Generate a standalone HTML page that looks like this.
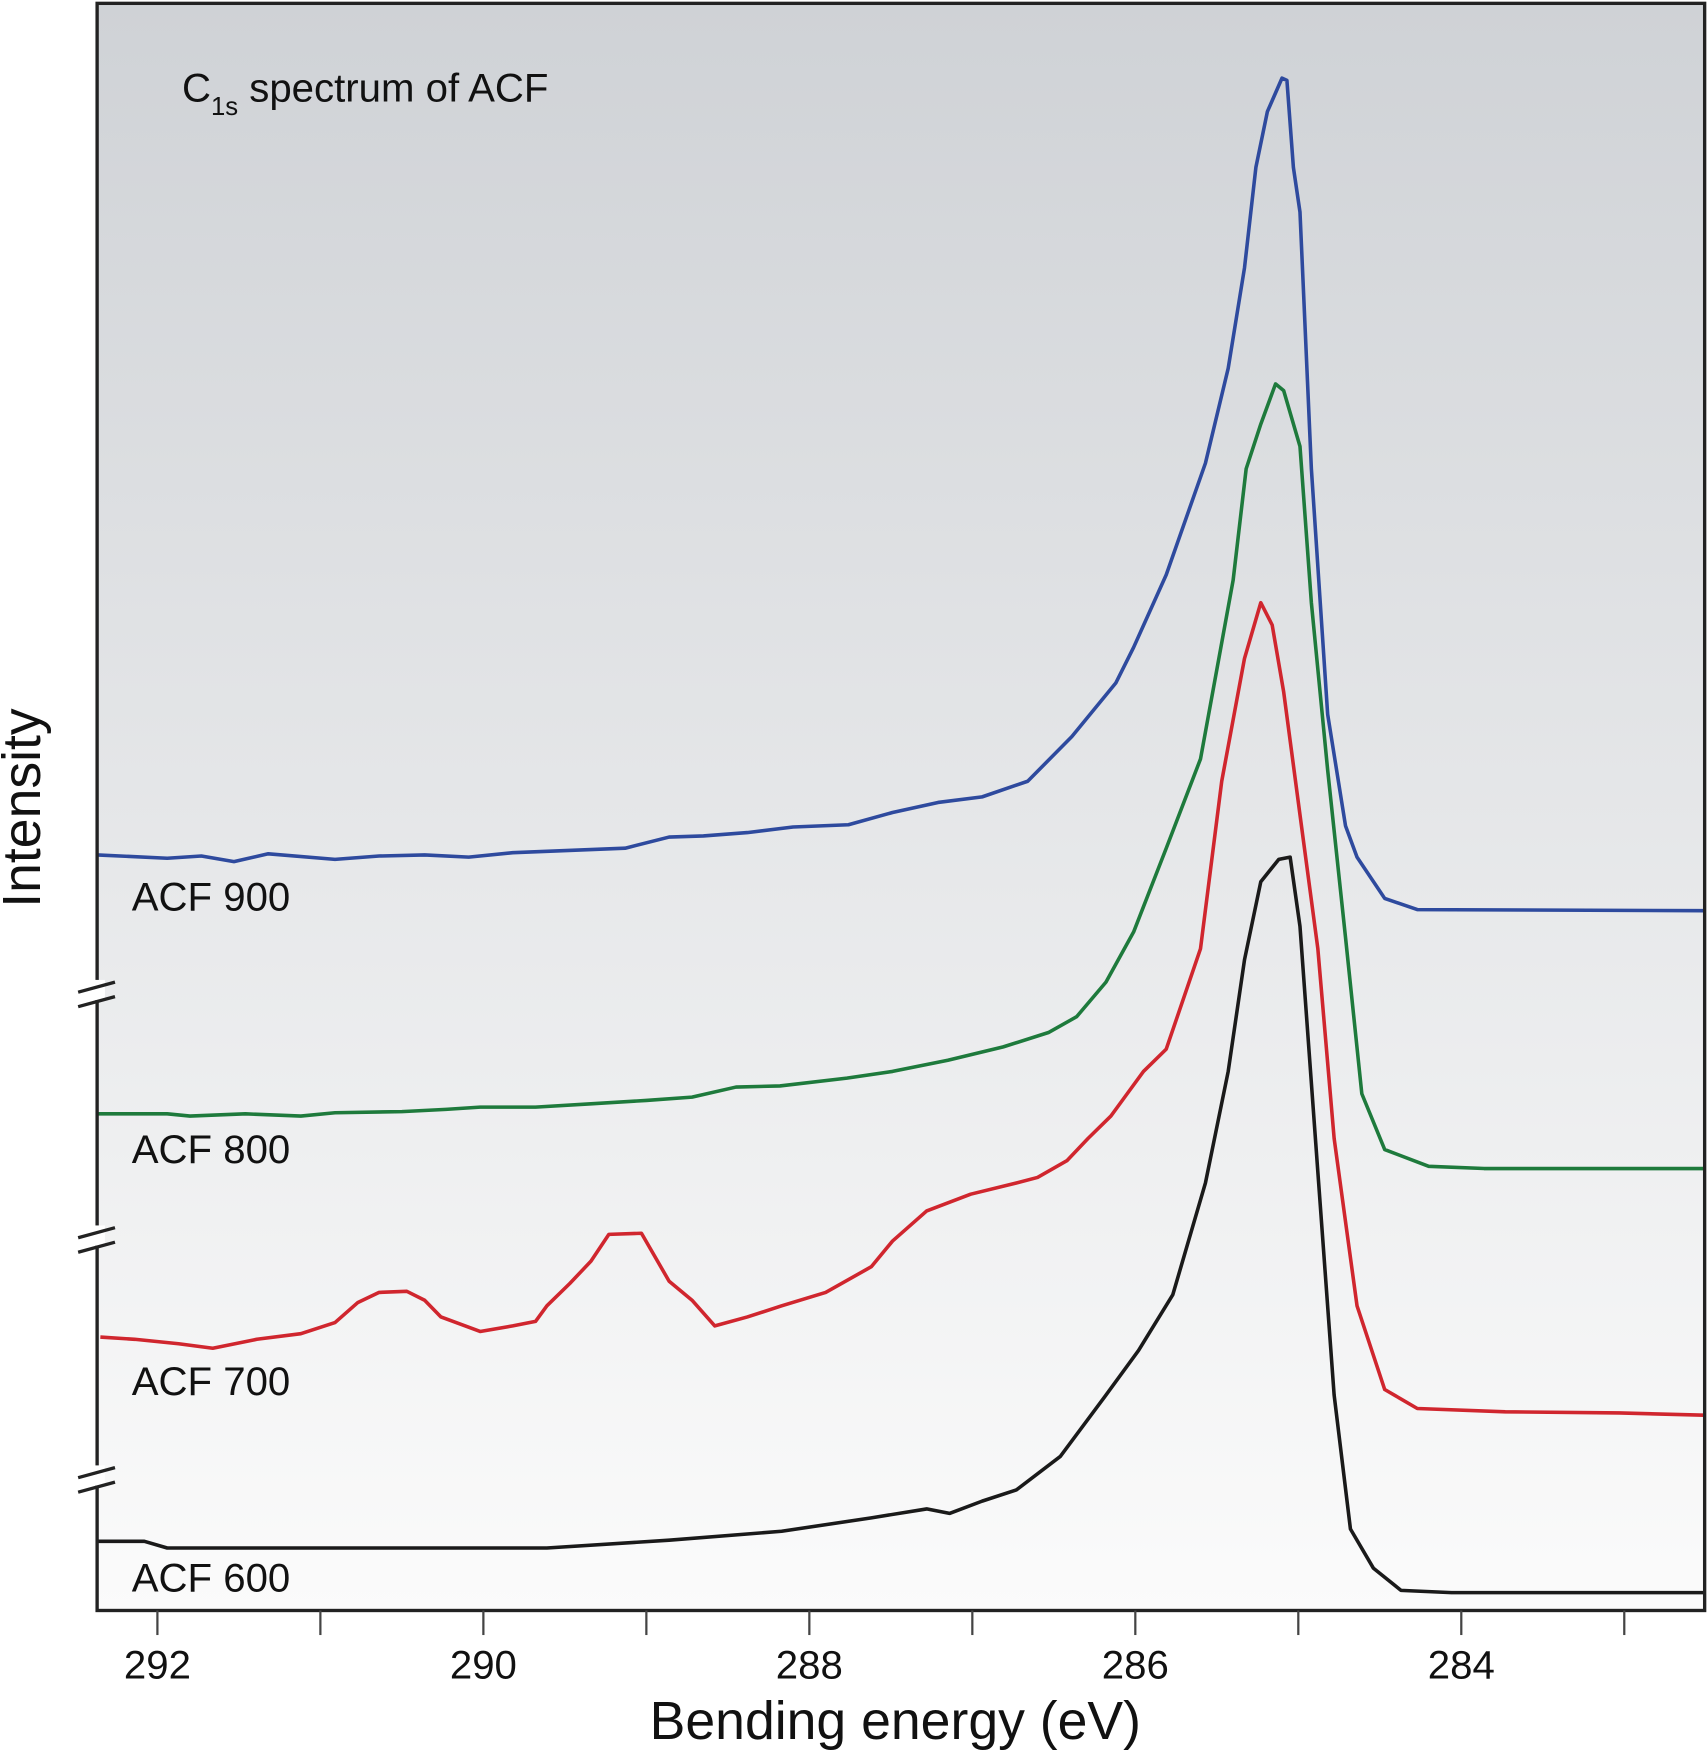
<!DOCTYPE html>
<html><head><meta charset="utf-8"><style>
html,body{margin:0;padding:0;background:#fff;}
svg{display:block;font-family:"Liberation Sans",sans-serif;}
</style></head><body>
<svg id="chart" width="1708" height="1750" viewBox="0 0 1530 1568" preserveAspectRatio="none" xmlns="http://www.w3.org/2000/svg">
<defs><linearGradient id="bg" x1="0" y1="0" x2="0" y2="1"><stop offset="0" stop-color="#cfd2d6"/><stop offset="1" stop-color="#fbfbfb"/></linearGradient></defs>
<rect x="87" y="3" width="1440" height="1440" fill="url(#bg)"/>
<g id="series"></g>
<rect x="87" y="3" width="1440" height="1440" fill="none" stroke="#222" stroke-width="3"/>
<g id="breaks"></g>
<g id="xticks"></g>
<text x="163" y="91" font-size="36" fill="#111">C<tspan font-size="23" dy="12">1s</tspan><tspan dy="-12"> spectrum of ACF</tspan></text>
<text x="118" y="816" font-size="36" fill="#111">ACF 900</text>
<text x="118" y="1042" font-size="36" fill="#111">ACF 800</text>
<text x="118" y="1250" font-size="36" fill="#111">ACF 700</text>
<text x="118" y="1426" font-size="36" fill="#111">ACF 600</text>
<text x="802" y="1558" font-size="48" text-anchor="middle" fill="#111">Bending energy (eV)</text>
<text transform="translate(36,724) rotate(-90)" font-size="48" text-anchor="middle" fill="#111">Intensity</text>
</svg>
<script>
const tickValues=[292,291,290,289,288,287,286,285,284,283];
const tickLabels=["292","290","288","286","284"];
const e900=[292.37,291.94,291.73,291.53,291.32,290.91,290.64,290.36,290.09,289.82,289.13,288.86,288.65,288.38,288.10,287.76,287.49,287.21,286.94,286.66,286.39,286.12,286.01,285.81,285.57,285.43,285.33,285.26,285.19,285.10,285.07,285.03,284.99,284.92,284.82,284.71,284.64,284.47,284.27,282.51];
const v900=[677,674,676,671,678,673,676,677,675,679,683,693,694,697,702,704,715,724,729,743,783,831,863,928,1028,1113,1203,1293,1343,1373,1371,1293,1253,1023,803,703,675,638,628,627];
const e800=[292.37,291.94,291.80,291.46,291.12,290.91,290.50,290.23,290.02,289.68,289.34,289.00,288.72,288.45,288.18,287.77,287.49,287.15,286.81,286.53,286.36,286.18,286.01,285.81,285.60,285.50,285.40,285.32,285.23,285.14,285.09,284.99,284.92,284.82,284.71,284.61,284.47,284.20,283.86,282.51];
const v800=[445,445,443,445,443,446,447,449,451,451,454,457,460,469,470,477,483,493,505,518,532,563,608,683,763,843,923,1023,1063,1099,1093,1043,903,753,603,463,413,398,396,396];
const e700=[292.35,292.14,291.87,291.66,291.39,291.12,290.91,290.77,290.64,290.47,290.36,290.26,290.02,289.82,289.68,289.61,289.47,289.34,289.23,289.03,288.86,288.72,288.58,288.38,288.17,287.90,287.62,287.49,287.28,287.01,286.73,286.60,286.42,286.29,286.15,286.05,285.95,285.81,285.60,285.47,285.33,285.23,285.16,285.09,284.99,284.88,284.78,284.64,284.47,284.27,283.73,283.03,282.51];
const v700=[245,243,239,235,243,248,258,276,285,286,278,263,250,255,259,273,293,313,337,338,295,278,255,263,273,285,308,331,358,373,383,388,403,423,443,463,483,503,593,743,853,903,883,823,713,593,423,273,198,181,178,177,175];
const e600=[292.37,292.08,291.94,289.61,288.86,288.17,287.62,287.28,287.14,286.94,286.73,286.46,286.18,285.98,285.77,285.57,285.43,285.33,285.23,285.12,285.05,284.99,284.88,284.78,284.68,284.54,284.37,284.06,282.51];
const v600=[62,62,56,56,63,71,83,91,87,98,108,138,193,233,283,383,483,583,653,673,675,613,393,193,73,38,18,16,16];
const breakLevels=[553,333,118];

const NS="http://www.w3.org/2000/svg";
function xs(e){return 141+(292-e)*146;}
function ys(v){return 1443-v;}
function mk(tag,attrs,parent){const el=document.createElementNS(NS,tag);for(const k in attrs)el.setAttribute(k,attrs[k]);parent.appendChild(el);return el;}

const sg=document.getElementById('series');
const defs=[["acf-900",e900,v900,"#2e4a9e"],["acf-800",e800,v800,"#1e7a3c"],["acf-700",e700,v700,"#d0262e"],["acf-600",e600,v600,"#1a1a1a"]];
defs.forEach(d=>{
  const pts=d[1].map((e,i)=>xs(e).toFixed(1)+","+ys(d[2][i]).toFixed(1)).join(" ");
  const pl=mk('polyline',{points:pts,fill:"none",stroke:d[3],"stroke-width":3.2,"stroke-linejoin":"round"},sg);
  
  
});

const xt=document.getElementById('xticks');
tickValues.forEach(t=>{
  const ln=mk('line',{x1:xs(t),x2:xs(t),y1:1443,y2:1465,stroke:"#444","stroke-width":2},xt);
  
  
});
tickLabels.forEach(l=>{
  const tx=mk('text',{x:xs(+l),y:1504,"font-size":36,"text-anchor":"middle",fill:"#111"},xt);
  tx.textContent=l;
  
  
});

const bg=document.getElementById('breaks');
breakLevels.forEach((b,i)=>{
  const y=ys(b);
  const g=mk('g',{},bg);
  
  
  mk('rect',{x:80,y:y-12,width:14,height:18,fill:"#fff"},g);
  mk('line',{x1:70,y1:y-1,x2:103,y2:y-10,stroke:"#222","stroke-width":3},g);
  mk('line',{x1:70,y1:y+12,x2:103,y2:y+3,stroke:"#222","stroke-width":3},g);
});
</script>
</body></html>
